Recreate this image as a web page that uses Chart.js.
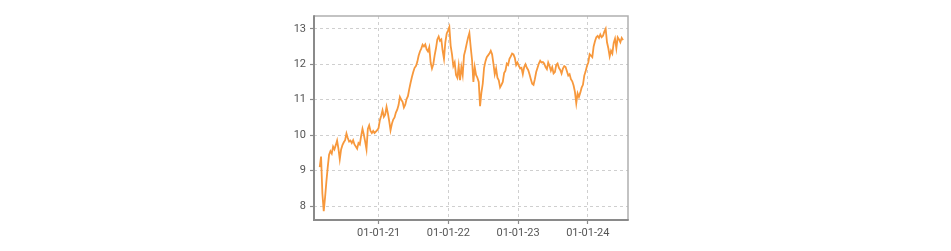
<!DOCTYPE html>
<html>
<head>
<meta charset="utf-8">
<script src="https://cdn.jsdelivr.net/npm/chart.js@4.4.1/dist/chart.umd.min.js"></script>
<style>
  html, body { margin: 0; padding: 0; background: #ffffff; }
  #wrap { width: 951px; height: 251px; }
</style>
</head>
<body>
<div id="wrap"><canvas id="c" width="951" height="251"></canvas></div>
<script>
const startDate = '2020-02-27';
const stepDays = 7;
const values = [
  9.10, 9.40, 8.35, 7.86, 8.25, 8.70, 9.10, 9.45, 9.55, 9.48,
  9.68, 9.60, 9.72, 9.85, 9.62, 9.32, 9.60, 9.72, 9.80, 9.86,
  10.05, 9.92, 9.82, 9.85, 9.78, 9.86, 9.74, 9.68, 9.62, 9.78,
  9.74, 9.98, 10.18, 10.02, 9.82, 9.60, 10.18, 10.28, 10.12, 10.06,
  10.12, 10.06, 10.10, 10.14, 10.20, 10.42, 10.55, 10.70, 10.52, 10.58,
  10.80, 10.62, 10.40, 10.14, 10.32, 10.44, 10.50, 10.64, 10.72, 10.85,
  11.08, 11.00, 10.94, 10.78, 10.86, 11.02, 11.10, 11.30, 11.48, 11.64,
  11.78, 11.90, 11.95, 12.06, 12.24, 12.36, 12.44, 12.55, 12.50, 12.56,
  12.42, 12.36, 12.48, 12.05, 11.88, 12.00, 12.25, 12.45, 12.70, 12.78,
  12.66, 12.70, 12.38, 12.15, 12.62, 12.86, 12.95, 13.05, 12.52, 12.28,
  11.95, 12.05, 11.70, 11.62, 11.95, 11.55, 11.92, 11.70, 12.25, 12.40,
  12.58, 12.75, 12.88, 12.48, 12.12, 11.50, 11.92, 11.70, 11.62, 11.50,
  10.82, 11.20, 11.45, 11.90, 12.08, 12.20, 12.25, 12.30, 12.38, 12.28,
  12.02, 11.72, 11.88, 11.62, 11.55, 11.35, 11.42, 11.50, 11.75, 11.82,
  12.02, 11.98, 12.15, 12.22, 12.30, 12.28, 12.18, 11.98, 12.05, 11.96,
  11.88, 11.90, 11.72, 11.92, 12.00, 11.90, 11.84, 11.72, 11.58, 11.45,
  11.42, 11.58, 11.78, 11.90, 12.02, 12.10, 12.05, 12.06, 12.02, 11.92,
  11.86, 12.05, 11.95, 11.82, 11.92, 11.74, 11.78, 11.98, 12.02, 11.90,
  11.84, 11.74, 11.88, 11.95, 11.92, 11.80, 11.68, 11.72, 11.58, 11.52,
  11.40, 11.22, 10.90, 11.18, 11.08, 11.20, 11.34, 11.42, 11.68, 11.80,
  11.95, 12.05, 12.28, 12.24, 12.20, 12.50, 12.65, 12.76, 12.80, 12.74,
  12.84, 12.76, 12.80, 12.92, 13.00, 12.62, 12.45, 12.22, 12.38, 12.30,
  12.60, 12.72, 12.45, 12.76, 12.70, 12.62, 12.74, 12.68
];
const xTickDates = ['2021-01-01', '2022-01-01', '2023-01-01', '2024-01-01'];
const yTicks = [8, 9, 10, 11, 12, 13];
const xRange = ['2020-01-28', '2024-07-30'];
const yRange = [7.61, 13.36];

// ---- build points ----
const DAY = 86400000;
const t0 = Date.parse(startDate + 'T00:00:00Z');
const points = values.map((v, i) => ({ x: t0 + i * stepDays * DAY, y: v }));
const xTickVals = xTickDates.map(d => Date.parse(d + 'T00:00:00Z'));
function fmt(ms) {
  const d = new Date(ms);
  const p = n => String(n).padStart(2, '0');
  return p(d.getUTCMonth() + 1) + '-' + p(d.getUTCDate()) + '-' + p(d.getUTCFullYear() % 100);
}

const frame = {
  id: 'frame',
  afterDraw(chart) {
    const a = chart.chartArea, ctx = chart.ctx;
    ctx.save();
    ctx.lineWidth = 1.5;
    ctx.strokeStyle = '#b0b0b0';
    ctx.beginPath();
    ctx.moveTo(a.left, a.top); ctx.lineTo(a.right, a.top); ctx.lineTo(a.right, a.bottom);
    ctx.stroke();
    ctx.lineWidth = 2;
    ctx.strokeStyle = '#8a8a8a';
    ctx.beginPath();
    ctx.moveTo(a.left, a.top - 0.75); ctx.lineTo(a.left, a.bottom); ctx.lineTo(a.right + 0.75, a.bottom);
    ctx.stroke();
    ctx.restore();
  }
};

const tickFont = { family: 'Roboto, "DejaVu Sans", sans-serif', size: 11 };
const gridOpts = {
  color: '#cfcfcf',
  lineWidth: 1,
  drawTicks: true,
  tickLength: 4,
  tickColor: '#8a8a8a',
  tickWidth: 1.2,
  tickBorderDash: []
};

new Chart(document.getElementById('c'), {
  type: 'line',
  data: {
    datasets: [{
      data: points,
      borderColor: '#f7983c',
      borderWidth: 1.8,
      pointRadius: 0,
      tension: 0,
      fill: false
    }]
  },
  options: {
    responsive: false,
    animation: false,
    devicePixelRatio: 1,
    layout: { padding: { left: 274, right: 323, top: 16, bottom: 0 } },
    plugins: { legend: { display: false }, tooltip: { enabled: false } },
    scales: {
      x: {
        type: 'linear',
        min: Date.parse(xRange[0] + 'T00:00:00Z'),
        max: Date.parse(xRange[1] + 'T00:00:00Z'),
        afterBuildTicks: s => { s.ticks = xTickVals.map(v => ({ value: v })); },
        afterFit: s => { s.height = 31; },
        border: { display: false, dash: [3, 3] },
        grid: gridOpts,
        ticks: {
          autoSkip: false,
          maxRotation: 0,
          color: '#555555',
          font: tickFont,
          padding: 3,
          callback: v => fmt(v)
        }
      },
      y: {
        min: yRange[0],
        max: yRange[1],
        afterBuildTicks: s => { s.ticks = yTicks.map(v => ({ value: v })); },
        afterFit: s => { s.width = 40; },
        border: { display: false, dash: [3, 3] },
        grid: gridOpts,
        ticks: {
          color: '#555555',
          font: tickFont,
          padding: 4,
          callback: v => String(v)
        }
      }
    }
  },
  plugins: [frame]
});
</script>
</body>
</html>
